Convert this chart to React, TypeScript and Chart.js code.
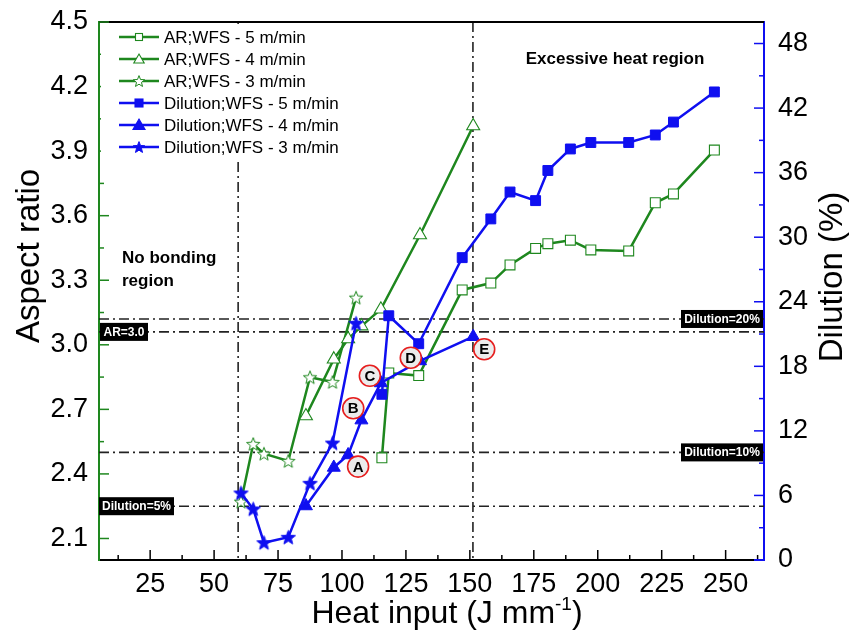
import React, { useEffect, useRef } from 'react';
import { Chart, registerables } from 'chart.js';

Chart.register(...registerables);

// ---------- data ----------
const heatWfs5 = [115.6, 118.3, 130.0, 147.0, 158.2, 165.7, 175.7, 180.5, 189.3, 197.3, 212.1, 222.5, 229.6, 245.6];
const arWfs5 = [2.475, 2.869, 2.857, 3.255, 3.287, 3.371, 3.448, 3.47, 3.486, 3.441, 3.436, 3.66, 3.701, 3.905];
const dilWfs5 = [15.4, 22.7, 20.1, 28.1, 31.7, 34.2, 33.4, 36.2, 38.2, 38.8, 38.8, 39.5, 40.7, 43.5];

const heatWfs4 = [85.9, 96.8, 102.4, 107.6, 115.2, 130.5, 151.3];
const arWfs4 = [2.669, 2.933, 3.027, 3.087, 3.165, 3.51, 4.017];
const dilWfs4 = [5.02, 8.6, 9.76, 13.0, 16.45, 18.5, 20.75];

const heatWfs3 = [60.5, 65.3, 69.5, 79.0, 87.5, 96.3, 105.5];
const arWfs3 = [2.271, 2.539, 2.494, 2.46, 2.849, 2.827, 3.219];
const dilWfs3 = [6.23, 4.74, 1.61, 2.11, 7.13, 10.87, 22.0];

const xTicks = [25, 50, 75, 100, 125, 150, 175, 200, 225, 250];
const arTicks = [2.1, 2.4, 2.7, 3.0, 3.3, 3.6, 3.9, 4.2, 4.5];
const dilTicks = [0, 6, 12, 18, 24, 30, 36, 42, 48];

const legendLabels = [
  'AR;WFS - 5 m/min',
  'AR;WFS - 4 m/min',
  'AR;WFS - 3 m/min',
  'Dilution;WFS - 5 m/min',
  'Dilution;WFS - 4 m/min',
  'Dilution;WFS - 3 m/min',
];

// reference lines
const vLines = [59.4, 151.2];
const arLines = [3.06];
const dilLines = [22.4, 10, 5];

// circled point labels (heat input, aspect ratio)
const circleLetters = ['A', 'B', 'C', 'D', 'E'];
const circleX = [106.3, 104.4, 110.9, 126.9, 155.6];
const circleY = [2.434, 2.705, 2.856, 2.94, 2.979];

const GREEN = 'rgb(30,135,30)';
const BLUE = 'rgb(15,15,240)';
const FONT = "'Liberation Sans', Arial, sans-serif";

function makeStar(fill: string, stroke: string, R: number, r: number, lw: number) {
  const size = Math.ceil(2 * R + 4);
  const c = document.createElement('canvas');
  c.width = size;
  c.height = size;
  const g = c.getContext('2d')!;
  g.beginPath();
  for (let i = 0; i < 10; i++) {
    const rad = i % 2 === 0 ? R : r;
    const a = -Math.PI / 2 + (i * Math.PI) / 5;
    const px = size / 2 + rad * Math.cos(a);
    const py = size / 2 + 0.6 + rad * Math.sin(a);
    if (i === 0) g.moveTo(px, py);
    else g.lineTo(px, py);
  }
  g.closePath();
  g.fillStyle = fill;
  g.fill();
  g.strokeStyle = stroke;
  g.lineWidth = lw;
  g.lineJoin = 'miter';
  g.stroke();
  return c;
}

const pts = (xs: number[], ys: number[]) => xs.map((x, i) => ({ x, y: ys[i] }));

const noPad = (s: any) => {
  s.paddingTop = 0;
  s.paddingBottom = 0;
  s.paddingLeft = 0;
  s.paddingRight = 0;
};

export default function App() {
  const ref = useRef<HTMLCanvasElement>(null);

  useEffect(() => {
    document.body.style.margin = '0';
    const canvas = ref.current!;
    const starHollow = makeStar('#fff', GREEN, 7, 3, 1);
    const starFilled = makeStar(BLUE, BLUE, 7.5, 3.2, 1);
    const starHollowS = makeStar('#fff', GREEN, 6, 2.6, 1);
    const starFilledS = makeStar(BLUE, BLUE, 6, 2.6, 1);

    const drawRect = (ctx: CanvasRenderingContext2D, x: number, y: number, s: number, fill: string, stroke: string) => {
      ctx.fillStyle = fill;
      ctx.fillRect(x - s / 2, y - s / 2, s, s);
      ctx.strokeStyle = stroke;
      ctx.lineWidth = 1.1;
      ctx.strokeRect(x - s / 2, y - s / 2, s, s);
    };
    const drawTri = (ctx: CanvasRenderingContext2D, x: number, y: number, r: number, fill: string, stroke: string) => {
      ctx.beginPath();
      ctx.moveTo(x, y - r);
      ctx.lineTo(x + r * 0.866, y + r * 0.5);
      ctx.lineTo(x - r * 0.866, y + r * 0.5);
      ctx.closePath();
      ctx.fillStyle = fill;
      ctx.fill();
      ctx.strokeStyle = stroke;
      ctx.lineWidth = 1.1;
      ctx.stroke();
    };

    const decor = {
      id: 'decor',
      beforeDatasetsDraw(chart: any) {
        const { ctx, chartArea: a, scales } = chart;
        ctx.save();
        ctx.strokeStyle = '#222';
        ctx.lineWidth = 1.6;
        ctx.setLineDash([10, 4, 2, 4]);
        vLines.forEach((v) => {
          const x = scales.x.getPixelForValue(v);
          ctx.beginPath();
          ctx.moveTo(x, a.top);
          ctx.lineTo(x, a.bottom);
          ctx.stroke();
        });
        arLines.forEach((v) => {
          const y = scales.yL.getPixelForValue(v);
          ctx.beginPath();
          ctx.moveTo(a.left, y);
          ctx.lineTo(a.right, y);
          ctx.stroke();
        });
        dilLines.forEach((v) => {
          const y = scales.yR.getPixelForValue(v);
          ctx.beginPath();
          ctx.moveTo(a.left, y);
          ctx.lineTo(a.right, y);
          ctx.stroke();
        });
        ctx.restore();
      },
      afterDraw(chart: any) {
        const { ctx, chartArea: a, scales } = chart;
        ctx.save();
        // top border
        ctx.strokeStyle = '#000';
        ctx.lineWidth = 2;
        ctx.beginPath();
        ctx.moveTo(a.left, a.top);
        ctx.lineTo(a.right, a.top);
        ctx.stroke();

        // inward ticks
        ctx.lineWidth = 1.5;
        ctx.strokeStyle = '#000';
        for (let v = 12.5; v < 265; v += 12.5) {
          const x = scales.x.getPixelForValue(v);
          const len = v % 25 === 0 ? 10 : 5;
          ctx.beginPath();
          ctx.moveTo(x, a.bottom);
          ctx.lineTo(x, a.bottom - len);
          ctx.stroke();
        }
        ctx.strokeStyle = GREEN;
        for (let i = 0; i < 17; i++) {
          const v = 2.1 + i * 0.15;
          const y = scales.yL.getPixelForValue(v);
          const len = i % 2 === 0 ? 10 : 5;
          ctx.beginPath();
          ctx.moveTo(a.left, y);
          ctx.lineTo(a.left + len, y);
          ctx.stroke();
        }
        ctx.strokeStyle = BLUE;
        for (let v = 3; v <= 48; v += 3) {
          const y = scales.yR.getPixelForValue(v);
          const len = v % 6 === 0 ? 10 : 5;
          ctx.beginPath();
          ctx.moveTo(a.right, y);
          ctx.lineTo(a.right - len, y);
          ctx.stroke();
        }
        // blue corner of bottom axis near right axis
        ctx.strokeStyle = BLUE;
        ctx.lineWidth = 2;
        ctx.beginPath();
        ctx.moveTo(a.right - 10, a.bottom);
        ctx.lineTo(a.right, a.bottom);
        ctx.stroke();

        // label boxes
        const box = (text: string, x: number, yc: number, w: number, alignRight: boolean) => {
          const h = 18;
          const bx = alignRight ? x - w : x;
          ctx.fillStyle = '#000';
          ctx.fillRect(bx, yc - h / 2, w, h);
          ctx.fillStyle = '#fff';
          ctx.font = `bold 12px ${FONT}`;
          ctx.textAlign = 'center';
          ctx.textBaseline = 'middle';
          ctx.fillText(text, bx + w / 2, yc + 0.5);
        };
        box('AR=3.0', a.left + 1, scales.yL.getPixelForValue(arLines[0]), 48, false);
        box('Dilution=5%', a.left, scales.yR.getPixelForValue(dilLines[2]), 75, false);
        box('Dilution=20%', a.right - 1, scales.yR.getPixelForValue(dilLines[0]), 82, true);
        box('Dilution=10%', a.right - 1, scales.yR.getPixelForValue(dilLines[1]), 82, true);

        // region texts
        ctx.fillStyle = '#000';
        ctx.font = `bold 17px ${FONT}`;
        ctx.textAlign = 'left';
        ctx.textBaseline = 'middle';
        ctx.fillText('No bonding', 122, 258);
        ctx.fillText('region', 122, 281);
        ctx.textAlign = 'center';
        ctx.fillText('Excessive heat region', 615, 59);

        // circled letters
        circleLetters.forEach((t, i) => {
          const x = scales.x.getPixelForValue(circleX[i]);
          const y = scales.yL.getPixelForValue(circleY[i]);
          ctx.beginPath();
          ctx.arc(x, y, 10.5, 0, Math.PI * 2);
          ctx.fillStyle = '#ececec';
          ctx.fill();
          ctx.strokeStyle = 'rgb(230,30,30)';
          ctx.lineWidth = 1.6;
          ctx.stroke();
          ctx.fillStyle = '#000';
          ctx.font = `bold 15px ${FONT}`;
          ctx.textAlign = 'center';
          ctx.textBaseline = 'middle';
          ctx.fillText(t, x, y + 1);
        });

        // legend
        ctx.fillStyle = '#fff';
        ctx.fillRect(a.left + 2, a.top + 2, 250, 136);
        legendLabels.forEach((t, i) => {
          const y = 37 + i * 22;
          const col = i < 3 ? GREEN : BLUE;
          ctx.strokeStyle = col;
          ctx.lineWidth = 2.5;
          ctx.beginPath();
          ctx.moveTo(119, y);
          ctx.lineTo(159, y);
          ctx.stroke();
          const cx = 139;
          if (i === 0) drawRect(ctx, cx, y, 7, '#fff', GREEN);
          if (i === 1) drawTri(ctx, cx, y + 1, 6, '#fff', GREEN);
          if (i === 2) ctx.drawImage(starHollowS, cx - starHollowS.width / 2, y - starHollowS.height / 2);
          if (i === 3) drawRect(ctx, cx, y, 8, BLUE, BLUE);
          if (i === 4) drawTri(ctx, cx, y + 1, 7, BLUE, BLUE);
          if (i === 5) ctx.drawImage(starFilledS, cx - starFilledS.width / 2, y - starFilledS.height / 2);
          ctx.fillStyle = '#000';
          ctx.font = `17px ${FONT}`;
          ctx.textAlign = 'left';
          ctx.textBaseline = 'middle';
          ctx.fillText(t, 164, y + 1);
        });

        // axis titles
        ctx.fillStyle = '#000';
        ctx.font = `33px ${FONT}`;
        ctx.textAlign = 'center';
        ctx.textBaseline = 'middle';
        ctx.save();
        ctx.translate(30, 256);
        ctx.rotate(-Math.PI / 2);
        ctx.fillText('Aspect ratio', 0, 0);
        ctx.restore();
        ctx.save();
        ctx.translate(833, 277);
        ctx.rotate(-Math.PI / 2);
        ctx.fillText('Dilution (%)', 0, 0);
        ctx.restore();

        // x title with superscript
        const main = 'Heat input (J mm';
        const sup = '-1';
        const end = ')';
        ctx.font = `32px ${FONT}`;
        const w1 = ctx.measureText(main).width;
        const w3 = ctx.measureText(end).width;
        ctx.font = `19px ${FONT}`;
        const w2 = ctx.measureText(sup).width;
        const total = w1 + w2 + w3;
        const x0 = 447 - total / 2;
        const base = 623;
        ctx.textAlign = 'left';
        ctx.textBaseline = 'alphabetic';
        ctx.font = `32px ${FONT}`;
        ctx.fillText(main, x0, base);
        ctx.font = `19px ${FONT}`;
        ctx.fillText(sup, x0 + w1, base - 13);
        ctx.font = `32px ${FONT}`;
        ctx.fillText(end, x0 + w1 + w2, base);
        ctx.restore();
      },
    };

    const tickFont = { family: FONT, size: 27 };

    const chart = new Chart(canvas, {
      type: 'line',
      data: {
        datasets: [
          {
            label: legendLabels[3],
            data: pts(heatWfs5, dilWfs5),
            yAxisID: 'yR',
            borderColor: BLUE,
            backgroundColor: BLUE,
            borderWidth: 2.5,
            pointStyle: 'rect',
            pointRadius: 7,
            pointBorderWidth: 1,
          },
          {
            label: legendLabels[4],
            data: pts(heatWfs4, dilWfs4),
            yAxisID: 'yR',
            borderColor: BLUE,
            backgroundColor: BLUE,
            borderWidth: 2.5,
            pointStyle: 'triangle',
            pointRadius: 7.5,
            pointBorderWidth: 1,
          },
          {
            label: legendLabels[5],
            data: pts(heatWfs3, dilWfs3),
            yAxisID: 'yR',
            borderColor: BLUE,
            backgroundColor: BLUE,
            borderWidth: 2.5,
            pointStyle: starFilled as any,
            pointRadius: 7,
          },
          {
            label: legendLabels[0],
            data: pts(heatWfs5, arWfs5),
            yAxisID: 'yL',
            borderColor: GREEN,
            backgroundColor: '#fff',
            pointBorderColor: GREEN,
            borderWidth: 2.5,
            pointStyle: 'rect',
            pointRadius: 7,
            pointBorderWidth: 1.1,
          },
          {
            label: legendLabels[1],
            data: pts(heatWfs4, arWfs4),
            yAxisID: 'yL',
            borderColor: GREEN,
            backgroundColor: '#fff',
            pointBorderColor: GREEN,
            borderWidth: 2.5,
            pointStyle: 'triangle',
            pointRadius: 7.5,
            pointBorderWidth: 1.1,
          },
          {
            label: legendLabels[2],
            data: pts(heatWfs3, arWfs3),
            yAxisID: 'yL',
            borderColor: GREEN,
            backgroundColor: '#fff',
            borderWidth: 2.5,
            pointStyle: starHollow as any,
            pointRadius: 7,
          },
        ],
      },
      options: {
        responsive: false,
        animation: false,
        layout: { padding: { top: 22, left: 0, right: 0, bottom: 0 } },
        plugins: { legend: { display: false }, tooltip: { enabled: false } },
        scales: {
          x: {
            type: 'linear',
            min: 5,
            max: 265,
            afterBuildTicks: (s: any) => {
              s.ticks = xTicks.map((v) => ({ value: v }));
            },
            afterFit: (s: any) => {
              s.height = 74;
              noPad(s);
            },
            ticks: { font: tickFont, color: '#000', padding: 8, maxRotation: 0, autoSkip: false, callback: (v: any) => String(v) },
            grid: { display: false, drawTicks: false },
            border: { display: true, color: '#000', width: 2 },
          },
          yL: {
            type: 'linear',
            position: 'left',
            min: 2.0,
            max: 4.5,
            afterBuildTicks: (s: any) => {
              s.ticks = arTicks.map((v) => ({ value: v }));
            },
            afterFit: (s: any) => {
              s.width = 99;
              noPad(s);
            },
            ticks: { font: tickFont, color: '#000', padding: 11, autoSkip: false, callback: (v: any) => Number(v).toFixed(1) },
            grid: { display: false, drawTicks: false },
            border: { display: true, color: GREEN, width: 2 },
          },
          yR: {
            type: 'linear',
            position: 'right',
            min: 0,
            max: 50,
            afterBuildTicks: (s: any) => {
              s.ticks = dilTicks.map((v) => ({ value: v }));
            },
            afterFit: (s: any) => {
              s.width = 93;
              noPad(s);
            },
            ticks: { font: tickFont, color: '#000', padding: 14, autoSkip: false, callback: (v: any) => String(v) },
            grid: { display: false, drawTicks: false },
            border: { display: true, color: BLUE, width: 2 },
          },
        },
      },
      plugins: [decor],
    } as any);

    return () => chart.destroy();
  }, []);

  return <canvas ref={ref} width={857} height={634} style={{ display: 'block' }} />;
}
